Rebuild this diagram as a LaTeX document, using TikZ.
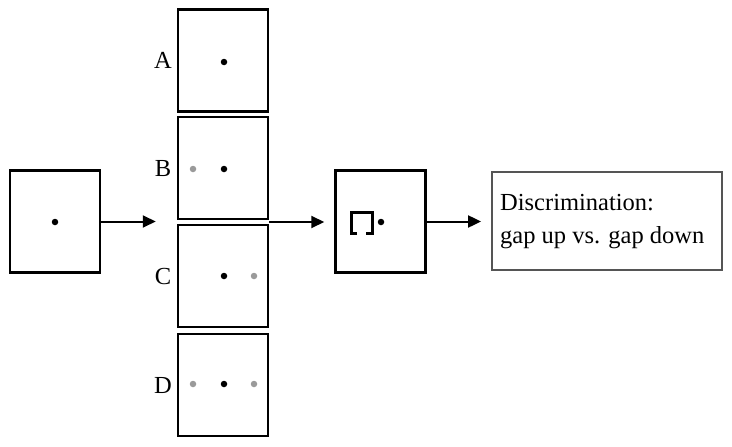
\documentclass[tikz,border=0pt]{standalone}
\usepackage{fontspec}
\setmainfont{Liberation Serif}
\usetikzlibrary{arrows.meta,calc}
\definecolor{dotgray}{HTML}{9A9A9A}
\definecolor{framegray}{HTML}{555555}
\begin{document}
\begin{tikzpicture}[x=1pt,y=-1pt,
  panel/.style={draw=black,line width=2.5pt,minimum width=90pt,minimum height=102pt,inner sep=0pt},
  conn/.style={line width=2pt,-{Triangle[length=13pt,width=12pt]}},
  bdot/.style={fill=black,circle,inner sep=0pt,minimum size=6.5pt},
  gdot/.style={fill=dotgray,circle,inner sep=0pt,minimum size=6.5pt},
  lab/.style={font=\fontsize{24.5}{30}\selectfont,inner sep=0pt}]
\useasboundingbox (0,0) rectangle (732,447);
% panels
\node[panel] (start) at (55,221.5) {};
\node[panel] (A) at (223,60.5) {};
\node[panel] (B) at (223,168) {};
\node[panel] (C) at (223,276) {};
\node[panel] (D) at (223,385) {};
\node[panel] (T) at (380.5,221.5) {};
\node[draw=framegray,line width=1.8pt,minimum width=230pt,minimum height=98pt,inner sep=0pt] (R) at (607,221) {};
\node[lab,anchor=west,align=left,font=\fontsize{24.5}{33}\selectfont] (Rt) at (500,222) {Discrimination:\\gap up vs. gap down};
% labels
\node[lab] (la) at (163,60) {A};
\node[lab] (lb) at (163,169) {B};
\node[lab] (lc) at (163,277) {C};
\node[lab] (ld) at (163,386) {D};
% dots
\node[bdot] (d0) at (55,222) {};
\node[bdot] (dA) at (224,62) {};
\node[bdot] (dB) at (224,169) {};
\node[gdot] (gB) at (193,169) {};
\node[bdot] (dC) at (224,276) {};
\node[gdot] (gC) at (254,276) {};
\node[bdot] (dD) at (224,384) {};
\node[gdot] (gD1) at (193,384) {};
\node[gdot] (gD2) at (254,384) {};
\node[bdot] (dT) at (381,222) {};
% bracket (gap down)
\draw[line width=3pt,line cap=butt,line join=miter] (357,233) -- (351,233) -- (351,212) -- (372,212) -- (372,233) -- (366,233);
% connectors
\coordinate (mid) at ($(B.south east)!0.5!(C.north east)$);
\draw[conn,shorten >=21pt] (start.east) -- (start.east -| A.west);
\draw[conn,shorten >=10pt] (mid) -- (mid -| T.west);
\draw[conn,shorten >=10pt] (T.east) -- (T.east -| R.west);
\end{tikzpicture}
\end{document}
